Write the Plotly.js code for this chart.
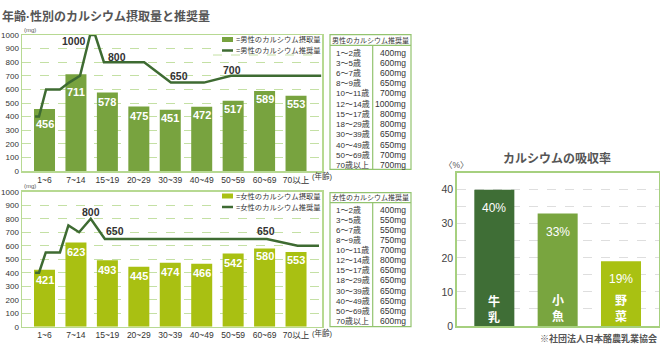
<!DOCTYPE html>
<html><head><meta charset="utf-8">
<script src="https://cdn.plot.ly/plotly-3.0.1.min.js"></script>
<style>html,body{margin:0;padding:0;background:#fff}#c{width:660px;height:351px}</style>
</head><body><div id="c"></div>
<script>
// ---- data ----
const ageCats = ['1~6','7~14','15~19','20~29','30~39','40~49','50~59','60~69','70以上'];
const maleIntake = [456,711,578,475,451,472,517,589,553];
const femaleIntake = [421,623,493,445,474,466,542,580,553];
// recommended-amount line: position along the age axis and value (mg)
const maleRecX = [-0.30,-0.175,0.05,0.49,0.78,1.13,1.45,1.61,1.89,3.17,4.02,5.07,5.93,8.80];
const maleRecY = [400,400,600,600,650,700,1000,1000,800,800,650,650,700,700];
const femaleRecX = [-0.30,-0.175,0.04,0.49,0.76,1.10,1.47,1.92,7.07,8.05,8.73];
const femaleRecY = [400,400,550,550,750,700,800,650,650,600,600];
const tableAges = ['1〜2歳','3〜5歳','6〜7歳','8〜9歳','10〜11歳','12〜14歳','15〜17歳','18〜29歳','30〜39歳','40〜49歳','50〜69歳','70歳以上'];
const maleRecTable = [400,600,600,650,700,1000,800,800,650,650,700,700];
const femaleRecTable = [400,550,550,750,700,800,650,650,650,650,650,600];
const foods = ['牛乳','小魚','野菜'];
const absorption = [40,33,19];

// ---- styles ----
const W = 660, H = 351;
const fx = p => p / W, fy = p => 1 - p / H;
const FONT = '"Liberation Sans", "Noto Sans CJK JP", sans-serif';
const MALE = '#78a33f', FEMALE = '#a9c012', LINE = '#3e6b32';
const FRAME = '#b7d992', GRID = '#c4e0a4', TBL = '#93c46f', TXT = '#333';
const foodColors = ['#3f6e36', '#79a53f', '#a9c112'];
// how far (px) each value label sits below its bar top
const maleLabelDrop = [15,18,10,10,8,8,8,8,8];
const femaleLabelDrop = [10,9,10,9,9,9,9,8,8];

const traces = [
  {type:'bar', x:ageCats.map((_,i)=>i), y:maleIntake, xaxis:'x', yaxis:'y', width:0.668,
   marker:{color:MALE}, hoverinfo:'skip'},
  {type:'scatter', mode:'lines', x:maleRecX, y:maleRecY, xaxis:'x', yaxis:'y',
   line:{color:LINE, width:2.5}, cliponaxis:false, hoverinfo:'skip'},
  {type:'bar', x:ageCats.map((_,i)=>i), y:femaleIntake, xaxis:'x2', yaxis:'y2', width:0.668,
   marker:{color:FEMALE}, hoverinfo:'skip'},
  {type:'scatter', mode:'lines', x:femaleRecX, y:femaleRecY, xaxis:'x2', yaxis:'y2',
   line:{color:LINE, width:2.5}, cliponaxis:false, hoverinfo:'skip'},
  {type:'bar', x:foods.map((_,i)=>i), y:absorption, xaxis:'x3', yaxis:'y3', width:0.632,
   marker:{color:foodColors}, hoverinfo:'skip'}
];

const ageAxis = (dom, anchor) => ({domain:dom, anchor:anchor, range:[-0.716, 8.826],
  tickvals:ageCats.map((_,i)=>i), ticktext:ageCats, showgrid:false, zeroline:false,
  showline:true, mirror:true, linecolor:FRAME, linewidth:1.5, ticks:'',
  tickfont:{size:8.5, color:TXT, family:FONT}, fixedrange:true});
const mgAxis = (dom, anchor) => ({domain:dom, anchor:anchor, range:[0,1000], dtick:100, tick0:0,
  showgrid:true, gridcolor:GRID, griddash:'dash', gridwidth:1, zeroline:false,
  showline:true, mirror:true, linecolor:FRAME, linewidth:1.5, ticks:'',
  tickfont:{size:8, color:TXT, family:FONT}, fixedrange:true});

const ann = [];
const shapes = [];
const A = (x, y, text, o) => ann.push(Object.assign({xref:'paper', yref:'paper', x:fx(x), y:fy(y), text:text,
  showarrow:false, xanchor:'center', yanchor:'middle', font:{family:FONT, size:8, color:TXT}}, o||{}));

// bar value labels
const barLabels = (xa, ya, vals, drops) => vals.forEach((v,i) => ann.push({xref:xa, yref:ya, x:i, y:v,
  yshift:-drops[i], text:'<b>'+v+'</b>', showarrow:false, yanchor:'middle',
  font:{family:FONT, size:11, color:'#fff'}}));
barLabels('x','y',maleIntake,maleLabelDrop);
barLabels('x2','y2',femaleIntake,femaleLabelDrop);

// titles
A(0, 17, '<b>年齢·性別のカルシウム摂取量と推奨量</b>', {xanchor:'left', font:{family:FONT, size:12, color:'#555'}});
A(557, 159, '<b>カルシウムの吸収率</b>', {font:{family:FONT, size:12, color:'#555'}});
A(456, 165, '〈%〉', {font:{family:FONT, size:8.5, color:'#555'}});
A(659, 338, '<b>※社団法人日本酪農乳業協会</b>', {xanchor:'right', font:{family:FONT, size:9, color:'#555'}});
A(22, 30, '(mg)', {xanchor:'left', font:{family:FONT, size:6, color:'#555'}});
A(22, 186, '(mg)', {xanchor:'left', font:{family:FONT, size:6, color:'#555'}});
A(322, 176, '(年齢)', {font:{family:FONT, size:7.5, color:TXT}});
A(322, 333, '(年齢)', {font:{family:FONT, size:7.5, color:TXT}});

// recommended-line value labels (axis coords)
const lineLabel = (xa, ya, x, y, t) => ann.push({xref:xa, yref:ya, x:x, y:y, text:'<b>'+t+'</b>', showarrow:false,
  font:{family:FONT, size:10.5, color:'#333'}});
lineLabel('x','y',0.94,956,'1000');
lineLabel('x','y',2.31,838,'800');
lineLabel('x','y',4.28,699,'650');
lineLabel('x','y',5.96,743,'700');
lineLabel('x2','y2',1.47,850,'800');
lineLabel('x2','y2',2.24,709,'650');
lineLabel('x2','y2',7.05,709,'650');

// legends
const legend = (yTop, color, sex) => {
  shapes.push({type:'rect', xref:'paper', yref:'paper', x0:fx(213), x1:fx(321), y0:fy(yTop-3), y1:fy(yTop+16),
    fillcolor:'#fff', line:{width:0}, layer:'above'});
  shapes.push({type:'rect', xref:'paper', yref:'paper', x0:fx(222), x1:fx(233), y0:fy(yTop+2.5), y1:fy(yTop-2.5),
    fillcolor:color, line:{width:0}, layer:'above'});
  shapes.push({type:'line', xref:'paper', yref:'paper', x0:fx(222), x1:fx(233), y0:fy(yTop+11), y1:fy(yTop+11),
    line:{color:LINE, width:2.5}, layer:'above'});
  A(234, yTop, '=' + sex + 'のカルシウム摂取量', {xanchor:'left', font:{family:FONT, size:7.3, color:TXT}});
  A(234, yTop+11, '=' + sex + 'のカルシウム推奨量', {xanchor:'left', font:{family:FONT, size:7.3, color:TXT}});
};
legend(39.5, MALE, '男性');
shapes.push({type:'line', xref:'paper', yref:'paper', x0:fx(213), x1:fx(321), y0:fy(55), y1:fy(55),
  line:{color:GRID, width:1, dash:'dash'}, layer:'above'});
legend(196, FEMALE, '女性');

// tables
const table = (top, headY, bottom, rowStart, rowStep, header, vals) => {
  shapes.push({type:'rect', xref:'paper', yref:'paper', x0:fx(330), x1:fx(411), y0:fy(bottom), y1:fy(top),
    line:{color:TBL, width:1.2}, fillcolor:'rgba(0,0,0,0)'});
  shapes.push({type:'line', xref:'paper', yref:'paper', x0:fx(330), x1:fx(411), y0:fy(headY), y1:fy(headY),
    line:{color:TBL, width:1.2}});
  shapes.push({type:'line', xref:'paper', yref:'paper', x0:fx(372.7), x1:fx(372.7), y0:fy(headY), y1:fy(bottom),
    line:{color:TBL, width:1.2}});
  A(370.5, (top+headY)/2, header, {font:{family:FONT, size:7, color:TXT}});
  tableAges.forEach((a,i) => {
    A(334, rowStart + i*rowStep, a, {xanchor:'left', font:{family:FONT, size:8, color:TXT}});
    A(408, rowStart + i*rowStep, vals[i] + 'mg', {xanchor:'right', font:{family:FONT, size:8.5, color:TXT}});
  });
};
table(34.7, 45.3, 169.3, 52.7, 10.2, '男性のカルシウム推奨量', maleRecTable);
table(192.7, 202.7, 326.7, 210, 10.07, '女性のカルシウム推奨量', femaleRecTable);

// absorption labels
absorption.forEach((v,i) => {
  ann.push({xref:'x3', yref:'y3', x:i, y:v, yshift:-18, text:v+'%', showarrow:false,
    font:{family:FONT, size:12, color:'#fff'}});
  ann.push({xref:'x3', yref:'y3', x:i, y:0, yshift:17, text:'<b>'+foods[i].split('').join('<br>')+'</b>', showarrow:false,
    yanchor:'middle', font:{family:FONT, size:12, color:'#fff'}});
});

const layout = {
  width:W, height:H, margin:{l:0, r:0, t:0, b:0}, showlegend:false,
  paper_bgcolor:'#fff', plot_bgcolor:'#fff', font:{family:FONT},
  xaxis: ageAxis([fx(22), fx(322)], 'y'),
  yaxis: mgAxis([fy(171), fy(35)], 'x'),
  xaxis2: ageAxis([fx(22), fx(322)], 'y2'),
  yaxis2: mgAxis([fy(326.7), fy(191.7)], 'x2'),
  xaxis3: {domain:[fx(456.7), fx(659)], anchor:'y3', range:[-0.594, 2.6], showticklabels:false,
    showgrid:false, zeroline:false, showline:true, mirror:true, linecolor:'#a6d07f', linewidth:1.5, ticks:'', fixedrange:true},
  yaxis3: {domain:[fy(326), fy(172.7)], anchor:'x3', range:[0,45], tickvals:[0,5,10,15,20,25,30,35,40],
    ticktext:['0','','10','','20','','30','','40'], showgrid:true, gridcolor:'#dedede', griddash:'dash',
    zeroline:false, showline:true, mirror:true, linecolor:'#a6d07f', linewidth:1.5, ticks:'',
    tickfont:{size:10.5, color:'#444', family:FONT}, fixedrange:true},
  annotations: ann, shapes: shapes
};
Plotly.newPlot('c', traces, layout, {staticPlot:true, displayModeBar:false});
</script></body></html>
